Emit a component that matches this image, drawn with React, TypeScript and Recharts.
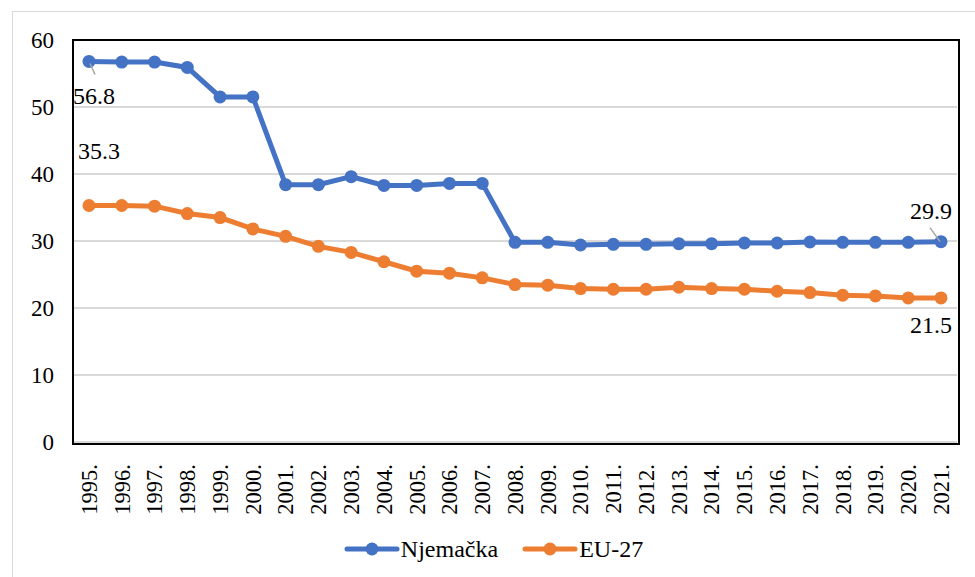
import { CartesianGrid, Legend, Line, LineChart, LabelList, XAxis, YAxis } from "recharts";

const years = ["1995.", "1996.", "1997.", "1998.", "1999.", "2000.", "2001.", "2002.", "2003.",
               "2004.", "2005.", "2006.", "2007.", "2008.", "2009.", "2010.", "2011.", "2012.",
               "2013.", "2014.", "2015.", "2016.", "2017.", "2018.", "2019.", "2020.", "2021."];

const njemacka = [56.8, 56.7, 56.7, 55.9, 51.5, 51.5, 38.4, 38.4, 39.6, 38.3, 38.3, 38.6, 38.6,
                  29.8, 29.8, 29.4, 29.5, 29.5, 29.6, 29.6, 29.7, 29.7, 29.85, 29.8, 29.8, 29.8, 29.9];

const eu27 = [35.3, 35.3, 35.2, 34.1, 33.5, 31.8, 30.7, 29.2, 28.3, 26.9, 25.5, 25.2, 24.5,
              23.5, 23.4, 22.9, 22.8, 22.8, 23.1, 22.9, 22.8, 22.5, 22.3, 21.9, 21.8, 21.5, 21.5];

const yTicks = [0, 10, 20, 30, 40, 50, 60];

const BLUE = "#4472C4";
const ORANGE = "#ED7D31";
const FONT = "Liberation Serif";

const W = 975, H = 577;
const M = { top: 40, right: 18, bottom: 13, left: 0 };
const Y_W = 73, X_H = 92, LEG_H = 30;

const data = years.map((y, i) => ({ year: y, njemacka: njemacka[i], eu27: eu27[i] }));

// where the first / last value label sits relative to its point, with optional leader line
type Place = { dx: number; dy: number; lead?: [number, number, number, number] };

function endLabels(first: Place, last: Place) {
  return (props: any) => {
    const { x, y, value, index } = props;
    const p = index === 0 ? first : index === years.length - 1 ? last : null;
    if (!p) return null;
    return (
      <g>
        {p.lead && (
          <line x1={x + p.lead[0]} y1={y + p.lead[1]} x2={x + p.lead[2]} y2={y + p.lead[3]}
                stroke="#a6a6a6" strokeWidth={1.5} />
        )}
        <text x={x + p.dx} y={y + p.dy} textAnchor="middle" dominantBaseline="central"
              style={{ fontFamily: FONT }} fontSize={24} fill="#000">
          {Number(value).toFixed(1)}
        </text>
      </g>
    );
  };
}

function YearTick({ x, y, payload }: any) {
  return (
    <g transform={`translate(${x},${y})`}>
      <text transform="rotate(-90)" x={-14} y={0} dy="0.35em" textAnchor="end"
            style={{ fontFamily: FONT }} fontSize={22.5} fill="#000">
        {payload.value}
      </text>
    </g>
  );
}

function YTick({ x, y, payload }: any) {
  return (
    <text x={x} y={y} dy="0.35em" textAnchor="end" style={{ fontFamily: FONT }} fontSize={23} fill="#000">
      {payload.value}
    </text>
  );
}

function LegendBox() {
  const items = [
    { name: "Njemačka", color: BLUE },
    { name: "EU-27", color: ORANGE },
  ];
  return (
    <div style={{ display: "flex", justifyContent: "center", alignItems: "center", height: LEG_H,
                  paddingLeft: 30 }}>
      {items.map((it, i) => (
        <div key={it.name} style={{ display: "flex", alignItems: "center", marginLeft: i ? 24 : 0 }}>
          <svg width={56} height={16}>
            <line x1={3} y1={8} x2={53} y2={8} stroke={it.color} strokeWidth={5} strokeLinecap="round" />
            <circle cx={28} cy={8} r={6.5} fill={it.color} />
          </svg>
          <span style={{ fontFamily: FONT, fontSize: 24, color: "#000", marginLeft: 1 }}>{it.name}</span>
        </div>
      ))}
    </div>
  );
}

export default function App() {
  const plotL = M.left + Y_W, plotT = M.top;
  const plotR = W - M.right, plotB = H - M.bottom - LEG_H - X_H;
  return (
    <div style={{ position: "absolute", left: 0, top: 0, width: W, height: H, background: "#fff",
                  overflow: "hidden", fontFamily: FONT }}>
      <div style={{ position: "absolute", left: 12, top: 11, width: 980, height: 600,
                    borderLeft: "1px solid #d9d9d9", borderTop: "1px solid #d9d9d9" }} />
      <LineChart width={W} height={H} data={data} margin={M}>
        <CartesianGrid vertical={false} stroke="#d9d9d9" strokeWidth={2} />
        <XAxis dataKey="year" interval={0} height={X_H} tick={<YearTick />} tickLine={false}
               axisLine={false} padding={{ left: 16, right: 16 }} />
        <YAxis domain={[0, 60]} ticks={yTicks} width={Y_W} tickLine={false} tickSize={0} tickMargin={19}
               axisLine={false} tick={<YTick />} />
        <Legend verticalAlign="bottom" content={<LegendBox />} />
        <Line dataKey="njemacka" name="Njemačka" stroke={BLUE} strokeWidth={5} isAnimationActive={false}
              dot={{ r: 6.5, fill: BLUE, stroke: BLUE, strokeWidth: 0 }} activeDot={false}>
          <LabelList dataKey="njemacka"
                     content={endLabels({ dx: 5, dy: 35, lead: [1, 2, 6, 13] },
                                        { dx: -10, dy: -31, lead: [-11, -14, -1, 0] })} />
        </Line>
        <Line dataKey="eu27" name="EU-27" stroke={ORANGE} strokeWidth={5} isAnimationActive={false}
              dot={{ r: 6.5, fill: ORANGE, stroke: ORANGE, strokeWidth: 0 }} activeDot={false}>
          <LabelList dataKey="eu27" content={endLabels({ dx: 10, dy: -54 }, { dx: -10, dy: 27 })} />
        </Line>
      </LineChart>
      {/* plot frame */}
      <div style={{ position: "absolute", left: plotL - 1, top: plotT - 1, width: plotR - plotL,
                    height: plotB - plotT, border: "2px solid #000", pointerEvents: "none" }} />
    </div>
  );
}
